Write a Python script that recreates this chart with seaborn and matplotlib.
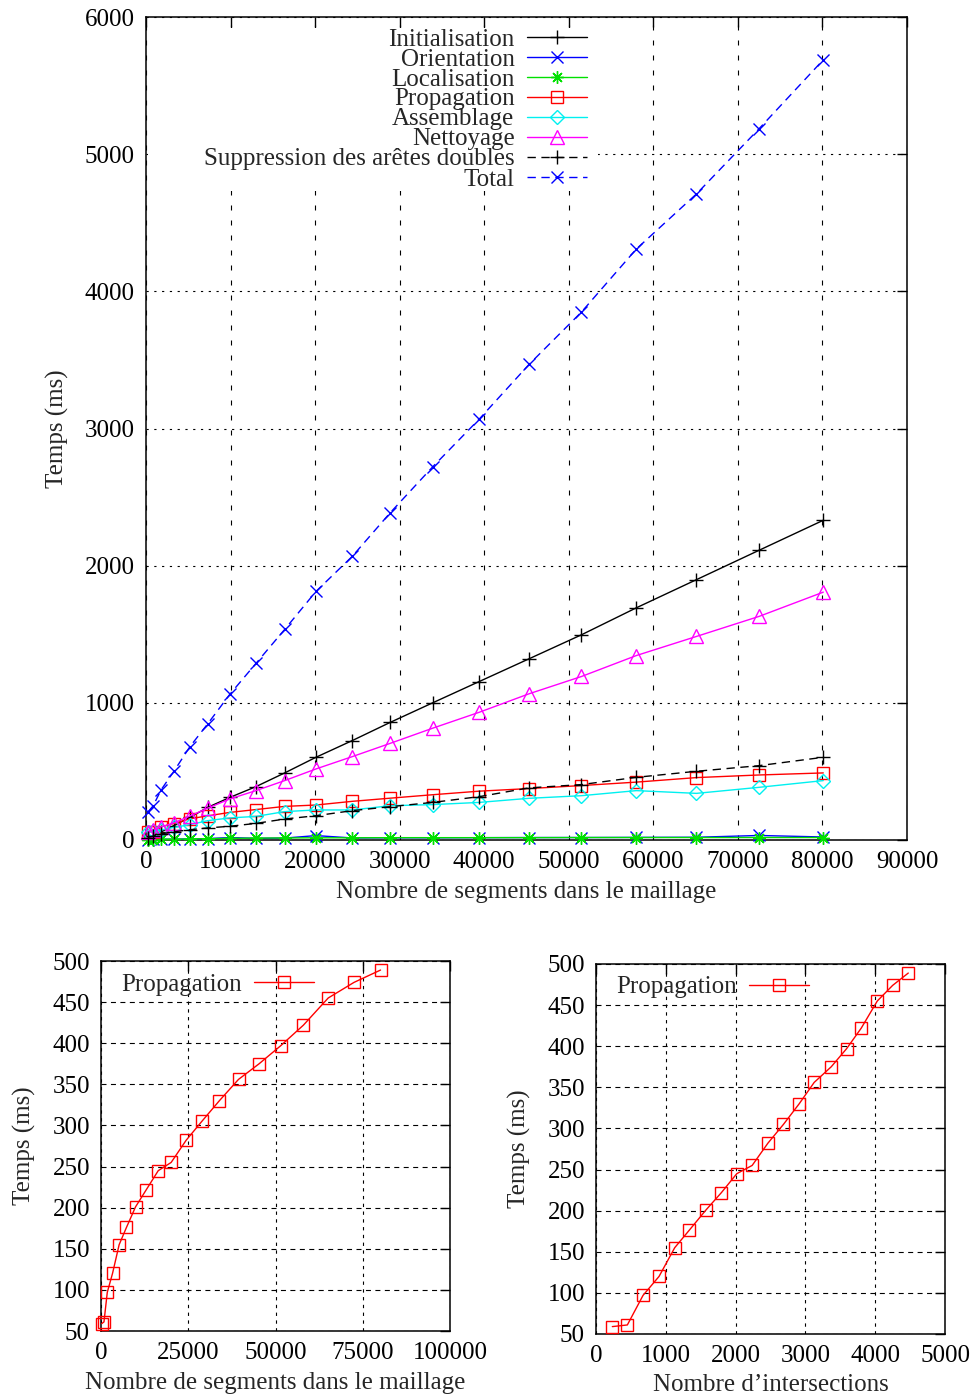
import matplotlib
matplotlib.use("Agg")
import matplotlib.pyplot as plt
from matplotlib.patches import Rectangle
import seaborn as sns
import numpy as np

# ---------------- data ----------------
segments = [200, 850, 1800, 3300, 5200, 7300, 9900, 13000, 16400, 20100,
            24400, 28900, 33900, 39400, 45300, 51500, 58000, 65100, 72500, 80100]
intersections = [234, 449, 674, 903, 1128, 1334, 1577, 1797, 2017, 2237,
                 2462, 2686, 2911, 3126, 3370, 3590, 3800, 4030, 4250, 4474]

initialisation = [10, 30, 60, 105, 165, 238, 310, 389, 489, 603,
                  725, 858, 1000, 1155, 1321, 1496, 1693, 1898, 2112, 2331]
orientation = [3, 4, 5, 6, 8, 10, 18, 12, 14, 32,
               15, 16, 16, 17, 18, 18, 19, 20, 33, 22]
localisation = [2, 3, 4, 5, 8, 10, 12, 14, 15, 16,
                16, 17, 17, 17, 17, 18, 18, 18, 18, 18]
propagation = [59, 61, 97, 120, 155, 176, 201, 222, 245, 255,
               282, 305, 330, 356, 375, 397, 422, 455, 474, 489]
assemblage = [55, 63, 73, 92, 112, 141, 161, 172, 207, 219,
              219, 250, 258, 274, 304, 323, 360, 340, 384, 433]
nettoyage = [60, 75, 95, 125, 175, 232, 299, 360, 433, 518,
             608, 705, 815, 931, 1066, 1192, 1345, 1484, 1630, 1807]
suppression = [18, 28, 45, 60, 75, 88, 100, 121, 153, 177,
               214, 243, 274, 316, 380, 404, 457, 501, 542, 603]
total = [201, 250, 367, 501, 681, 847, 1061, 1287, 1535, 1812,
         2068, 2387, 2720, 3068, 3467, 3849, 4309, 4710, 5185, 5688]

series_names = ["Initialisation", "Orientation", "Localisation", "Propagation",
                "Assemblage", "Nettoyage", "Suppression des arêtes doubles", "Total"]
series_values = [initialisation, orientation, localisation, propagation,
                 assemblage, nettoyage, suppression, total]

main_xticks = list(range(0, 90001, 10000))
main_yticks = list(range(0, 6001, 1000))
bl_xticks = [0, 25000, 50000, 75000, 100000]
br_xticks = [0, 1000, 2000, 3000, 4000, 5000]
small_yticks = list(range(50, 501, 50))

# ---------------- style ----------------
sns.set_theme(style="white")
plt.rcParams["font.family"] = ["Liberation Serif", "DejaVu Serif"]
plt.rcParams["mathtext.fontset"] = "dejavuserif"

FS = 18
colors = ["#000000", "#0000ff", "#00e000", "#ff0000", "#00f0f0", "#ff00ff", "#000000", "#0000ff"]
markers = ["+", "x", (8, 2, 0), "s", "D", "^", "+", "x"]
msizes = [10, 8, 9, 9, 7, 10, 10, 8]
dash = (0, (6, 4))
lstyles = ["-", "-", "-", "-", "-", "-", dash, dash]

fig = plt.figure(figsize=(9.8, 14), dpi=100)
W, H = 980.0, 1400.0


def axes_px(l, t, r, b):
    return fig.add_axes([l / W, 1 - b / H, (r - l) / W, (b - t) / H])


def style_axes(ax, xgrid_ls, ygrid_ls):
    for s in ax.spines.values():
        s.set_color("black")
        s.set_linewidth(1.1)
        s.set_visible(True)
    ax.tick_params(direction="in", top=True, right=True, length=7, width=1,
                   labelsize=FS, pad=8, colors="black")
    ax.set_axisbelow(True)
    ax.xaxis.grid(True, color="black", linewidth=0.8, linestyle=xgrid_ls)
    ax.yaxis.grid(True, color="black", linewidth=0.8, linestyle=ygrid_ls)
    ax.set_facecolor("white")


# ---------------- main plot ----------------
ax = axes_px(146, 17, 907, 840)
for name, vals, c, m, ms, ls in zip(series_names, series_values, colors, markers, msizes, lstyles):
    sns.lineplot(x=segments, y=vals, ax=ax, color=c, marker=m, markersize=ms,
                 markerfacecolor="none", markeredgecolor=c, markeredgewidth=1.0,
                 linewidth=1.0, linestyle=ls, errorbar=None, legend=False,
                 clip_on=False, zorder=3)
ax.set_xlim(0, 90000)
ax.set_ylim(0, 6000)
ax.set_xticks(main_xticks)
ax.set_yticks(main_yticks)
style_axes(ax, (0, (4.5, 9)), (0, (2, 5)))
ax.set_xlabel("Nombre de segments dans le maillage", fontsize=FS)
ax.set_ylabel("Temps (ms)", fontsize=FS)
ax.yaxis.set_label_coords((69 - 146) / 761, 0.5)
ax.xaxis.set_label_coords(0.5, (840 - 881) / 823)

# white key area hiding the grid behind the legend (as in the gnuplot key)
ax.add_patch(Rectangle((148 / W, 1 - 191 / H), (598 - 148) / W, (191 - 28) / H,
                       transform=fig.transFigure, facecolor="white",
                       edgecolor="none", zorder=1))

leg = ax.legend(handles=list(ax.lines), labels=series_names, loc="upper right",
                bbox_to_anchor=(587 / W, 1 - 28 / H), bbox_transform=fig.transFigure,
                frameon=False, markerfirst=False, fontsize=FS, borderpad=0,
                borderaxespad=0, handlelength=2.4, handletextpad=0.5,
                labelspacing=-0.1)
for col in leg._legend_handle_box.get_children():
    col.align = "right"

# ---------------- bottom left ----------------
ax2 = axes_px(101, 961, 450, 1331)
sns.lineplot(x=segments, y=propagation, ax=ax2, color="#ff0000", marker="s", markersize=8.5,
             markerfacecolor="none", markeredgecolor="#ff0000", markeredgewidth=1.0,
             linewidth=1.0, errorbar=None, legend=False, clip_on=False, zorder=3)
ax2.set_xlim(0, 100000)
ax2.set_ylim(50, 500)
ax2.set_xticks(bl_xticks)
ax2.set_yticks(small_yticks)
style_axes(ax2, (0, (3, 4)), (0, (4.5, 4)))
ax2.set_xlabel("Nombre de segments dans le maillage", fontsize=FS)
ax2.set_ylabel("Temps (ms)", fontsize=FS)
ax2.yaxis.set_label_coords((36 - 101) / 349, 0.5)
ax2.xaxis.set_label_coords(0.5, (1331 - 1372) / 370)
ax2.legend(handles=list(ax2.lines), labels=["Propagation"], loc="upper left",
           bbox_to_anchor=(121 / W, 1 - 973 / H), bbox_transform=fig.transFigure,
           frameon=False, markerfirst=False, fontsize=FS, borderpad=0,
           borderaxespad=0, handlelength=2.4, handletextpad=0.5)

# ---------------- bottom right ----------------
ax3 = axes_px(596, 964, 945, 1334)
sns.lineplot(x=intersections, y=propagation, ax=ax3, color="#ff0000", marker="s", markersize=8.5,
             markerfacecolor="none", markeredgecolor="#ff0000", markeredgewidth=1.0,
             linewidth=1.0, errorbar=None, legend=False, clip_on=False, zorder=3)
ax3.set_xlim(0, 5000)
ax3.set_ylim(50, 500)
ax3.set_xticks(br_xticks)
ax3.set_yticks(small_yticks)
style_axes(ax3, (0, (3, 4)), (0, (4.5, 4)))
ax3.set_xlabel("Nombre d’intersections", fontsize=FS)
ax3.set_ylabel("Temps (ms)", fontsize=FS)
ax3.yaxis.set_label_coords((531 - 596) / 349, 0.5)
ax3.xaxis.set_label_coords(0.5, (1334 - 1374) / 370)
ax3.legend(handles=list(ax3.lines), labels=["Propagation"], loc="upper left",
           bbox_to_anchor=(616 / W, 1 - 976 / H), bbox_transform=fig.transFigure,
           frameon=False, markerfirst=False, fontsize=FS, borderpad=0,
           borderaxespad=0, handlelength=2.4, handletextpad=0.5)

fig.savefig("out.png", dpi=100, facecolor="white")
